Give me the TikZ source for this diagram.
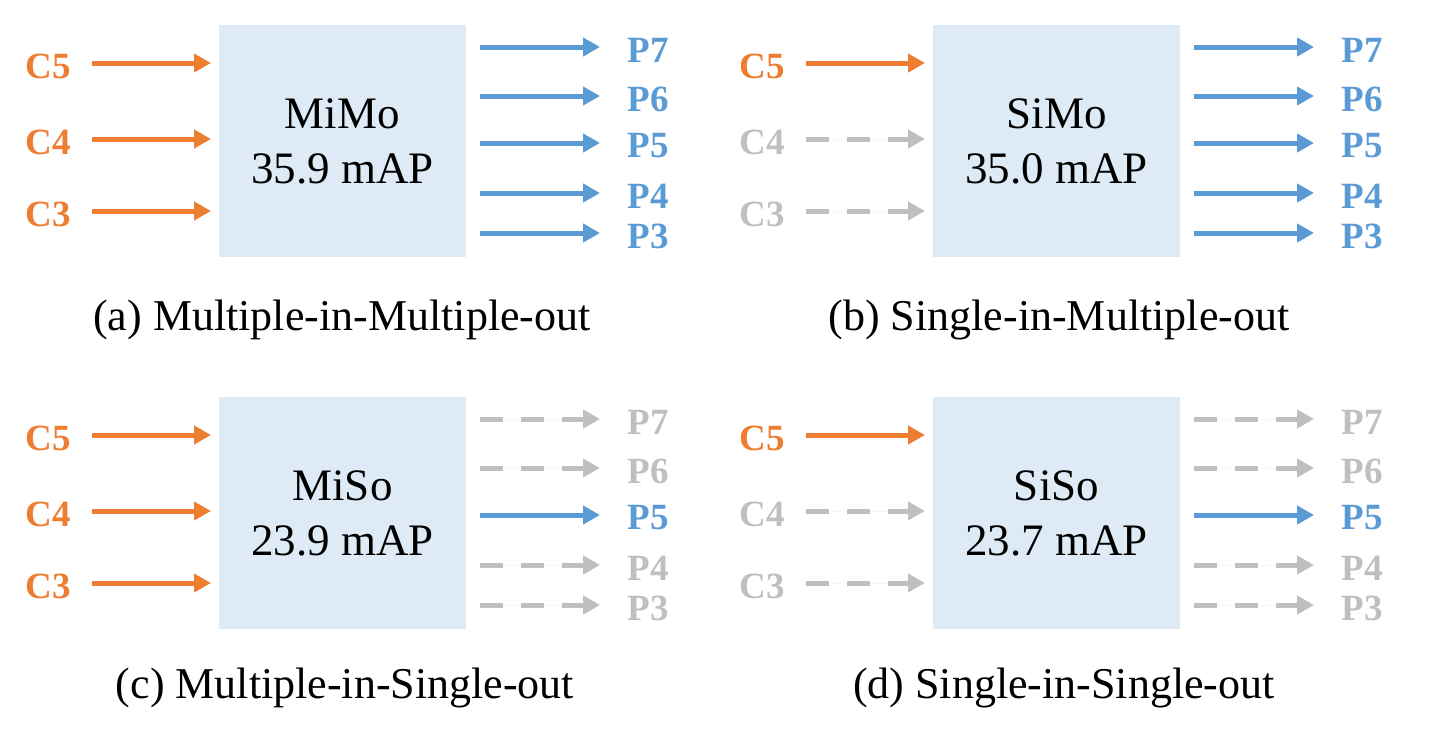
\documentclass[tikz,border=0pt]{standalone}
\usepackage{fontspec}
\setmainfont{Liberation Serif}
\usetikzlibrary{arrows.meta}
\definecolor{inorange}{HTML}{ED7D31}
\definecolor{outblue}{HTML}{5B9BD5}
\definecolor{idlegray}{HTML}{BFBFBF}
\definecolor{boxfill}{HTML}{DEEBF7}
\tikzset{
  arrbase/.style={line width=5pt,-{Triangle[length=17pt,width=18pt]}},
  actin/.style={arrbase,draw=inorange,fill=inorange},
  actout/.style={arrbase,draw=outblue,fill=outblue},
  idle/.style={arrbase,draw=idlegray,fill=idlegray,dash pattern=on 23pt off 18pt},
  lblbase/.style={inner sep=0pt,font=\fontsize{37}{40}\selectfont\bfseries},
  lblin/.style={lblbase,text=inorange},
  lblout/.style={lblbase,text=outblue},
  lblidle/.style={lblbase,text=idlegray},
  blockbox/.style={fill=boxfill,draw=none,minimum width=247pt,minimum height=232pt,
    inner sep=0pt,align=center,font=\fontsize{45}{55}\selectfont},
  captxt/.style={inner sep=0pt,anchor=base,font=\fontsize{44}{50}\selectfont}
}
\newcommand\drawpanel[6]{%
  \begin{scope}[shift={(#2,#3)}]
    \node[blockbox] (#1box) at (342.5,141) {#4};
    \foreach \c/\y/\a/\l in {#5} {
      \node[\l] (#1C\c) at (48,\y+3) {C\c};
      \coordinate (#1s\c) at (92,\y);
      \coordinate (#1e\c) at (211,\y);
      \draw[\a] (#1s\c) -- (#1e\c);
    }
    \foreach \p/\y/\a/\l in {#6} {
      \coordinate (#1o\p) at (480,\y);
      \coordinate (#1t\p) at (600,\y);
      \draw[\a] (#1o\p) -- (#1t\p);
      \node[\l] (#1P\p) at (648,\y+3) {P\p};
    }
  \end{scope}}
\begin{document}
\begin{tikzpicture}[x=1pt,y=-1pt]
\useasboundingbox (0,0) rectangle (1437,740);
\drawpanel{a}{0}{0}{MiMo\\35.9 mAP}
  {5/63/actin/lblin,4/139/actin/lblin,3/211/actin/lblin}
  {7/47/actout/lblout,6/96/actout/lblout,5/143/actout/lblout,4/193/actout/lblout,3/233/actout/lblout}
\node[captxt] (capa) at (342,330) {(a) Multiple-in-Multiple-out};
\drawpanel{b}{714}{0}{SiMo\\35.0 mAP}
  {5/63/actin/lblin,4/139/idle/lblidle,3/211/idle/lblidle}
  {7/47/actout/lblout,6/96/actout/lblout,5/143/actout/lblout,4/193/actout/lblout,3/233/actout/lblout}
\node[captxt] (capb) at (1059,330) {(b) Single-in-Multiple-out};
\drawpanel{c}{0}{372}{MiSo\\23.9 mAP}
  {5/63/actin/lblin,4/139/actin/lblin,3/211/actin/lblin}
  {7/47/idle/lblidle,6/96/idle/lblidle,5/143/actout/lblout,4/193/idle/lblidle,3/233/idle/lblidle}
\node[captxt] (capc) at (345,698) {(c) Multiple-in-Single-out};
\drawpanel{d}{714}{372}{SiSo\\23.7 mAP}
  {5/63/actin/lblin,4/139/idle/lblidle,3/211/idle/lblidle}
  {7/47/idle/lblidle,6/96/idle/lblidle,5/143/actout/lblout,4/193/idle/lblidle,3/233/idle/lblidle}
\node[captxt] (capd) at (1064,698) {(d) Single-in-Single-out};
\end{tikzpicture}
\end{document}
